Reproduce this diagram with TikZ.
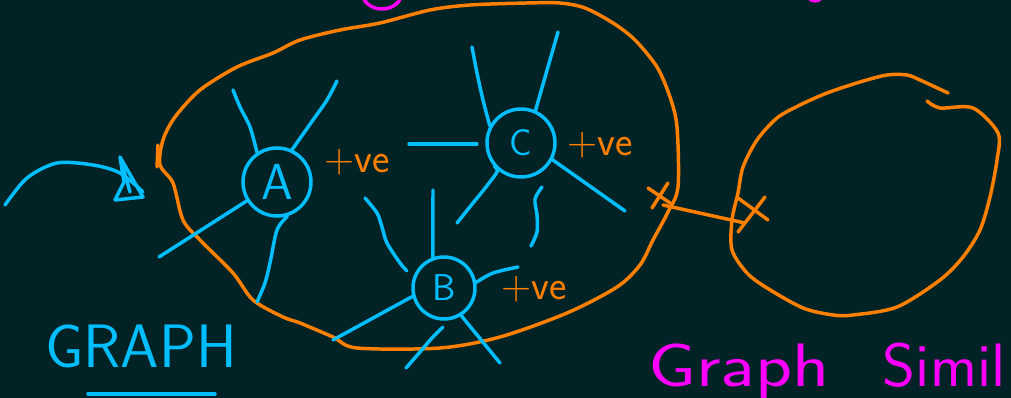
\documentclass[tikz,border=0pt]{standalone}
\usepackage{fontspec}
\definecolor{bg}{RGB}{2,35,38}
\definecolor{cy}{RGB}{0,190,255}
\definecolor{og}{RGB}{255,128,0}
\definecolor{mg}{RGB}{255,0,255}
\begin{document}
\begin{tikzpicture}[x=0.75pt,y=-0.75pt,line cap=round,line join=round,
  hpen/.style={line width=2.6pt},
  cpen/.style={hpen,draw=cy},
  orpen/.style={hpen,draw=og},
  mpen/.style={hpen,draw=mg},
  vertex/.style={circle,draw=cy,line width=2.6pt,inner sep=0pt,text=cy},
  wt/.style={text=og,font=\sffamily\fontsize{31}{33}\selectfont,inner sep=0pt}]
\fill[bg] (0,0) rectangle (1011,398);
\useasboundingbox (0,0) rectangle (1011,398);
\clip (0,0) rectangle (1011,398);

% magenta partial shapes at top
\draw[mpen] (382,-8) ellipse [x radius=20, y radius=17];
\draw[mpen] (815,-9) ellipse [x radius=9, y radius=10];

% big orange blob
\draw[orpen] plot[smooth cycle,tension=0.5] coordinates {
 (160,165) (163,140) (175,117) (200,90) (237,67) (273,53) (300,40) (340,30)
 (380,23) (430,10) (470,5) (527,3) (560,3) (585,8) (613,23) (635,40) (657,67)
 (670,97) (677,127) (678,187) (668,212) (653,240) (640,265) (617,287)
 (567,313) (500,337) (440,348) (357,348) (333,337) (300,323) (283,317)
 (253,300) (233,273) (200,240) (183,220) (173,183)};
\draw[orpen] (158,145) -- (157,167);

% right orange blob
\draw[orpen] plot[smooth,tension=0.5] coordinates {
 (927,101) (940,108) (973,108) (998,133) (997,160) (990,197) (980,230)
 (963,257) (940,280) (897,307) (853,315) (833,315) (803,308) (767,288)
 (747,273) (732,250) (732,220) (738,193) (743,167) (757,140) (777,118)
 (800,105) (827,93) (860,82) (887,75) (907,75) (920,80) (948,93)};

% crosses and link
\coordinate (X1) at (663,205);
\coordinate (X2) at (745,223);
\draw[orpen] (648,188) -- (670,203);
\draw[orpen] (652,208) -- (668,183);
\draw[orpen] (738,198) -- (768,220);
\draw[orpen] (765,197) -- (738,232);
\draw[orpen] (X1) -- (X2);

% vertices
\node[vertex,minimum size=51pt,font=\sffamily\fontsize{38}{40}\selectfont] (A) at (277,182) {A};
\node[vertex,minimum size=51pt,font=\sffamily\fontsize{28}{30}\selectfont] (C) at (521,143) {C};
\node[vertex,minimum size=46.5pt,font=\sffamily\fontsize{28}{30}\selectfont] (B) at (444,288) {B};

% spokes of A
\draw[cpen] plot[smooth] coordinates {(A.124) (250,127) (240,107) (233,90)};
\draw[cpen] plot[smooth] coordinates {(A.65) (313,120) (327,100) (337,81)};
\coordinate (a3) at (159,257);
\draw[cpen] (A.212) -- (a3);
\draw[cpen] plot[smooth] coordinates {(A.287) (277,230) (270,263) (265,283) (257,302)};

% spokes of C
\draw[cpen] plot[smooth] coordinates {(C.151) (483,100) (477,73) (472,47)};
\coordinate (c2) at (558,32);
\draw[cpen] (C.66) -- (c2);
\coordinate (cl1) at (409,144);
\coordinate (cl2) at (477,144);
\draw[cpen] (cl1) -- (cl2);
\draw[cpen] plot[smooth] coordinates {(C.222) (497,172) (482,192) (473,203) (457,223)};
\coordinate (c5) at (625,211);
\draw[cpen] (C.332) -- (c5);
\draw[cpen] plot[smooth] coordinates {(542,187) (535,199) (537,215) (537,232) (531,246)};

% spokes of B
\coordinate (b1) at (433,190);
\draw[cpen] (B.110) -- (b1);
\draw[cpen] plot[smooth] coordinates {(365,198) (377,213) (382,227) (387,243) (400,263) (407,271)};
\draw[cpen] plot[smooth] coordinates {(B.10) (493,273) (518,267)};
\coordinate (b4) at (333,340);
\draw[cpen] (B.195) -- (b4);
\draw[cpen] plot[smooth] coordinates {(443,327) (432,338) (420,352) (406,368)};
\coordinate (b6) at (500,363);
\draw[cpen] (B.302) -- (b6);

% weights
\node[wt] (wA) at (357,162) {+ve};
\node[wt] (wC) at (600,145) {+ve};
\node[wt] (wB) at (534,289) {+ve};

% incoming arrow
\draw[cpen] plot[smooth] coordinates {(5,205) (27,178) (57,163) (93,165) (120,173) (143,192)};
\draw[cpen] (120,157) -- (143,197) -- (115,200) -- (124,182) -- cycle;
\draw[cpen] (121,160) -- (130,192);

% GRAPH
\node[anchor=base west,text=cy,inner sep=0pt,font=\sffamily\fontsize{46}{50}\selectfont] (g) at (45,368) {GRAPH};
\coordinate (u1) at (88,394);
\coordinate (u2) at (215,394);
\draw[cpen] (u1) -- (u2);

% Graph Similarity (cut at the edge in the source)
\node[anchor=base west,text=mg,inner sep=0pt,font=\sffamily\fontsize{46}{50}\selectfont] (gs) at (648,387) {\scalebox{1.25}[1]{Graph}\hspace{40pt}\scalebox{1.03}[1]{Simil}};
\end{tikzpicture}
\end{document}
